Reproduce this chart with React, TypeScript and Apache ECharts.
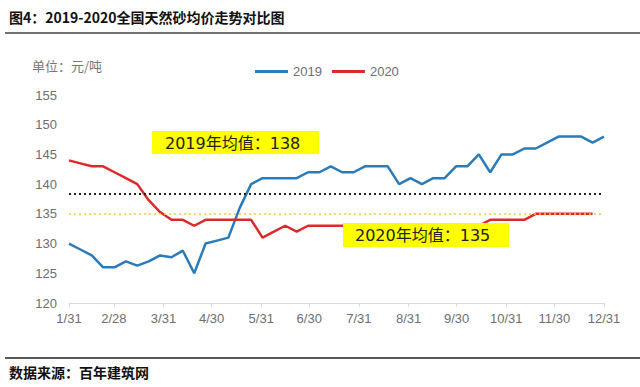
import React, { useEffect, useRef } from "react";
import * as echarts from "echarts";

const seriesNames = ["2019", "2020"];
// weekly average price, 2019
const values2019 = [
  130, 129, 128, 126, 126, 127, 126.3, 127, 128, 127.7, 128.8, 125, 130, 130.5, 131, 136,
  140, 141, 141, 141, 141, 142, 142, 143, 142, 142, 143, 143, 143, 140, 141, 140,
  141, 141, 143, 143, 145, 142, 145, 145, 146, 146, 147, 148, 148, 148, 147, 148,
];
// weekly average price, 2020
const values2020: (number | null)[] = [
  144, 143.5, 143, 143, 142, 141, 140, 137.3, 135.3, 134, 134, 133, 134, 134, 134, 134,
  134, 131, 132, 133, 132, 133, 133, 133, 133, 133, 133, 133, 133, 133, 133, 133,
  133, 133, 133, 133, 133, 134, 134, 134, 134, 135, 135, 135, 135, 135, 135, null,
];
// month-end ticks, as days after 1/31
const tickDays = [0, 28, 59, 89, 120, 150, 181, 212, 242, 273, 303, 334];
const tickLabels = ["1/31", "2/28", "3/31", "4/30", "5/31", "6/30", "7/31", "8/31", "9/30", "10/31", "11/30", "12/31"];
const yMin = 120;
const yMax = 155;
const yStep = 5;

const titleText = "图4：2019-2020全国天然砂均价走势对比图";
const unitText = "单位：元/吨";
const sourceText = "数据来源：百年建筑网";

const BLUE = "#2b7bb9";
const RED = "#dc2a2a";
const GREY = "#6e6e6e";

function mean(arr: (number | null)[]) {
  const v = arr.filter((x) => x != null) as number[];
  return v.reduce((a, b) => a + b, 0) / v.length;
}

export default function App() {
  const ref = useRef<HTMLDivElement>(null);
  useEffect(() => {
    if (!ref.current) return;
    const chart = echarts.init(ref.current, null, { renderer: "svg" });
    const weekIdx = values2019.map((_, i) => String(i));
    const avg19 = Math.round(mean(values2019));
    const avg20 = Math.round(mean(values2020));
    const latin = '"Liberation Sans", Arial, sans-serif';
    const boxFont = '"DejaVu Sans", "Noto Sans CJK SC", sans-serif';
    const option: any = {
      animation: false,
      grid: { left: 69, right: 36, top: 95, bottom: 84, containLabel: false },
      legend: {
        data: seriesNames,
        left: 250,
        top: 60,
        icon: "rect",
        itemWidth: 33,
        itemHeight: 3,
        itemGap: 10,
        textStyle: { color: GREY, fontSize: 13, fontFamily: latin },
      },
      xAxis: [
        { type: "category", data: weekIdx, boundaryGap: false, show: false },
        {
          type: "value",
          min: tickDays[0],
          max: tickDays[tickDays.length - 1],
          position: "bottom",
          axisLine: { show: true, lineStyle: { color: "#d9d9d9", width: 1 } },
          axisTick: { show: true, customValues: tickDays, length: 4, lineStyle: { color: "#d9d9d9" } },
          axisLabel: {
            customValues: tickDays,
            formatter: (v: number) => tickLabels[tickDays.indexOf(v)] ?? "",
            color: GREY,
            fontSize: 13,
            fontFamily: latin,
            margin: 9,
          },
          splitLine: { show: false },
        },
      ],
      yAxis: {
        type: "value",
        min: yMin,
        max: yMax,
        interval: yStep,
        axisLine: { show: false },
        axisTick: { show: false },
        splitLine: { show: false },
        axisLabel: { color: GREY, fontSize: 13, fontFamily: latin, margin: 12 },
      },
      series: [
        {
          name: seriesNames[0],
          type: "line",
          xAxisIndex: 0,
          data: values2019,
          showSymbol: false,
          symbol: "none",
          lineStyle: { color: BLUE, width: 2.5 },
          itemStyle: { color: BLUE },
          z: 3,
          markLine: {
            silent: true,
            symbol: "none",
            label: { show: false },
            lineStyle: { type: [2, 3], color: "#222", width: 2 },
            data: [{ type: "average" }],
          },
        },
        {
          name: seriesNames[1],
          type: "line",
          xAxisIndex: 0,
          data: values2020,
          showSymbol: false,
          symbol: "none",
          connectNulls: false,
          lineStyle: { color: RED, width: 2.5 },
          itemStyle: { color: RED },
          z: 3,
          markLine: {
            silent: true,
            symbol: "none",
            label: { show: false },
            lineStyle: { type: [2, 3], color: "#f3c64a", width: 1.5 },
            data: [{ type: "average" }],
          },
        },
      ],
      graphic: [
        {
          type: "text",
          x: 9,
          y: 17,
          style: {
            text: titleText,
            fontSize: 14,
            fontWeight: "bold",
            fontFamily: '"Noto Sans CJK SC", sans-serif',
            fill: "#111",
            verticalAlign: "middle",
          },
        },
        { type: "line", shape: { x1: 5, y1: 33, x2: 640, y2: 33 }, style: { stroke: "#444", lineWidth: 1.5 } },
        {
          type: "text",
          x: 32,
          y: 65,
          style: {
            text: unitText,
            fontSize: 13,
            fontFamily: '"Noto Sans CJK SC", sans-serif',
            fill: "#777",
            verticalAlign: "middle",
          },
        },
        {
          type: "group",
          x: 152,
          y: 131,
          z: 100,
          children: [
            { type: "rect", shape: { x: 0, y: 0, width: 167, height: 23 }, style: { fill: "#ffff00" }, z: 100 },
            {
              type: "text",
              x: 13,
              y: 12,
              z: 101,
              style: { text: `2019年均值：${avg19}`, fontSize: 16, fontFamily: boxFont, fill: "#222", verticalAlign: "middle" },
            },
          ],
        },
        {
          type: "group",
          x: 343,
          y: 223,
          z: 100,
          children: [
            { type: "rect", shape: { x: 0, y: 0, width: 166, height: 24 }, style: { fill: "#ffff00" }, z: 100 },
            {
              type: "text",
              x: 12,
              y: 12.5,
              z: 101,
              style: { text: `2020年均值：${avg20}`, fontSize: 16, fontFamily: boxFont, fill: "#222", verticalAlign: "middle" },
            },
          ],
        },
        { type: "line", shape: { x1: 5, y1: 358, x2: 640, y2: 358 }, style: { stroke: "#222", lineWidth: 1.5 } },
        {
          type: "text",
          x: 9,
          y: 372,
          style: {
            text: sourceText,
            fontSize: 14,
            fontWeight: "bold",
            fontFamily: '"Noto Sans CJK SC", sans-serif',
            fill: "#111",
            verticalAlign: "middle",
          },
        },
      ],
    };
    chart.setOption(option);
    return () => chart.dispose();
  }, []);
  return (
    <div
      ref={ref}
      style={{ position: "fixed", left: 0, top: 0, width: 640, height: 387, background: "#fff" }}
    />
  );
}
